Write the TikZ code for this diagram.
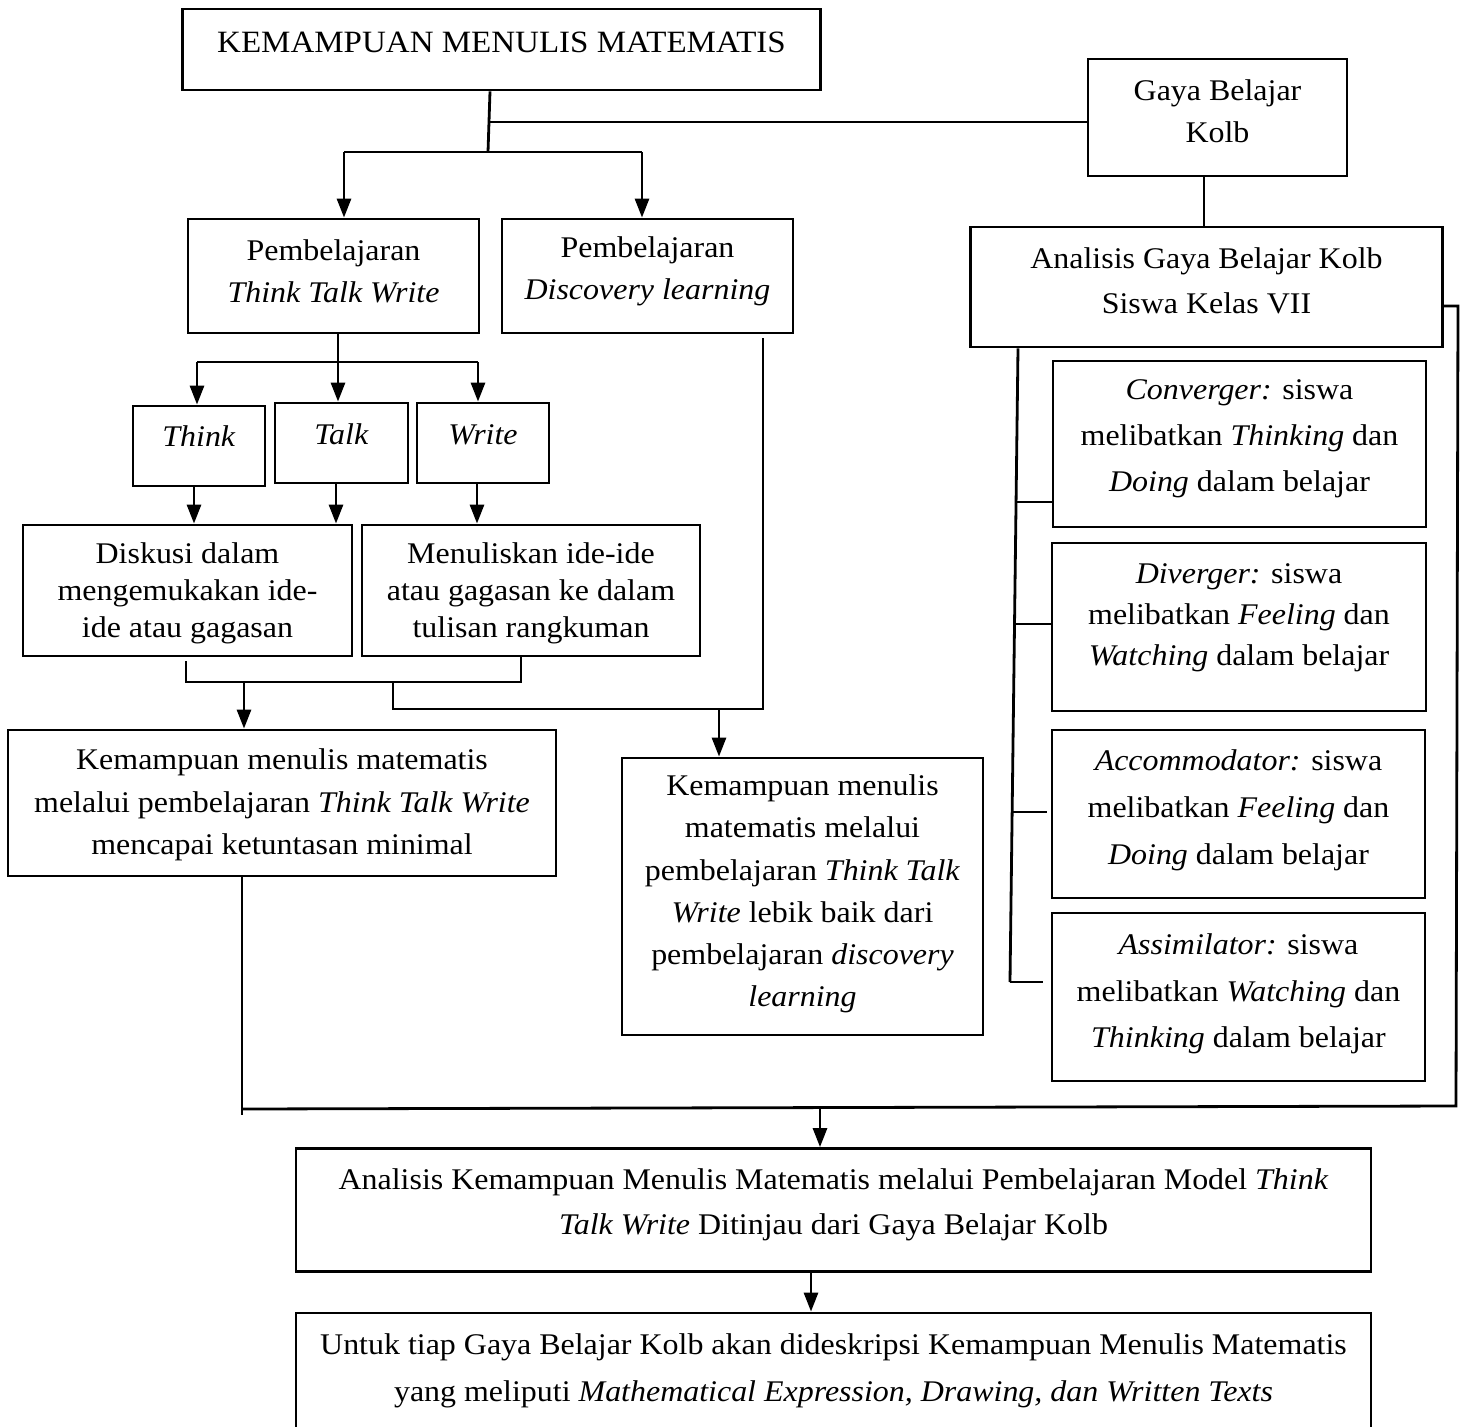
\documentclass[tikz,border=0pt]{standalone}
\usepackage{fontspec}
\setmainfont{Liberation Serif}[FakeStretch=1.065]
\usetikzlibrary{arrows.meta,calc}
\begin{document}
\begin{tikzpicture}[x=1pt,y=-1pt,
  box/.style={draw, line width=2.8pt, rectangle, inner sep=0pt},
  txt/.style={align=center, inner sep=0pt, font=\fontsize{30}{42}\selectfont},
  ln/.style={line width=2.8pt},
  arr/.style={line width=2.8pt, -{Triangle[length=19pt,width=14pt]}}]
\useasboundingbox (0,0) rectangle (1460,1427);
\fill[white] (0,0) rectangle (1460,1427);

% ---------- boxes ----------
\node[box, minimum width=638pt, minimum height=81pt] (top) at (501.5,49.5) {};
\node[txt, font=\fontsize{31}{42}\selectfont] (top-t) at (501.5,42) {KEMAMPUAN MENULIS MATEMATIS};

\node[box, minimum width=259pt, minimum height=117pt] (gaya) at (1217.5,117.5) {};
\node[txt] (gaya-t) at (1217.5,111) {Gaya Belajar\\Kolb};

\node[box, minimum width=291pt, minimum height=114pt] (ttw) at (333.5,276) {};
\node[txt] (ttw-t) at (333.5,271) {Pembelajaran\\\textit{Think Talk Write}};

\node[box, minimum width=291pt, minimum height=114pt] (disc) at (647.5,276) {};
\node[txt] (disc-t) at (647.5,271) {Pembelajaran\\\textit{Discovery learning}};

\node[box, minimum width=472pt, minimum height=120pt] (agk) at (1206.5,287) {};
\node[txt, font=\fontsize{30}{45}\selectfont] (agk-t) at (1206.5,281) {Analisis Gaya Belajar Kolb\\Siswa Kelas VII};

\node[box, minimum width=132pt, minimum height=80pt] (think) at (199,446) {};
\node[txt] (think-t) at (199,436) {\textit{Think}};
\node[box, minimum width=133pt, minimum height=80pt] (talk) at (341.5,443) {};
\node[txt] (talk-t) at (341.5,434) {\textit{Talk}};
\node[box, minimum width=132pt, minimum height=80pt] (write) at (483,443) {};
\node[txt] (write-t) at (483,435) {\textit{Write}};

\node[box, minimum width=329pt, minimum height=131pt] (diskusi) at (187.5,590.5) {};
\node[txt, font=\fontsize{30}{37}\selectfont] (diskusi-t) at (187.5,593) {Diskusi dalam\\mengemukakan ide-\\ide atau gagasan};
\node[box, minimum width=338pt, minimum height=131pt] (menulis) at (531,590.5) {};
\node[txt, font=\fontsize{30}{37}\selectfont] (menulis-t) at (531,593) {Menuliskan ide-ide\\atau gagasan ke dalam\\tulisan rangkuman};

\node[box, minimum width=548pt, minimum height=146pt] (kttw) at (282,803) {};
\node[txt, font=\fontsize{30}{42.5}\selectfont] (kttw-t) at (282,805) {Kemampuan menulis matematis\\melalui pembelajaran \textit{Think Talk Write}\\mencapai ketuntasan minimal};

\node[box, minimum width=361pt, minimum height=277pt] (kdisc) at (802.5,896.5) {};
\node[txt, font=\fontsize{30}{42.3}\selectfont] (kdisc-t) at (802.5,894) {Kemampuan menulis\\matematis melalui\\pembelajaran \textit{Think Talk}\\\textit{Write} lebik baik dari\\pembelajaran \textit{discovery}\\\textit{learning}};

\node[box, minimum width=373pt, minimum height=166pt] (conv) at (1239.5,444) {};
\node[txt, font=\fontsize{30}{46}\selectfont] (conv-t) at (1239.5,439) {\textit{Converger:} siswa\\melibatkan \textit{Thinking} dan\\\textit{Doing} dalam belajar};
\node[box, minimum width=374pt, minimum height=168pt] (div) at (1239,627) {};
\node[txt, font=\fontsize{30}{41}\selectfont] (div-t) at (1239,618) {\textit{Diverger:} siswa\\melibatkan \textit{Feeling} dan\\\textit{Watching} dalam belajar};
\node[box, minimum width=373pt, minimum height=168pt] (acc) at (1238.5,814) {};
\node[txt, font=\fontsize{30}{47}\selectfont] (acc-t) at (1238.5,810) {\textit{Accommodator:} siswa\\melibatkan \textit{Feeling} dan\\\textit{Doing} dalam belajar};
\node[box, minimum width=373pt, minimum height=168pt] (assim) at (1238.5,997) {};
\node[txt, font=\fontsize{30}{46.5}\selectfont] (assim-t) at (1238.5,994) {\textit{Assimilator:} siswa\\melibatkan \textit{Watching} dan\\\textit{Thinking} dalam belajar};

\node[box, minimum width=1075pt, minimum height=123pt] (akm) at (833.5,1210) {};
\node[txt, font=\fontsize{30}{45}\selectfont] (akm-t) at (833.5,1205) {Analisis Kemampuan Menulis Matematis melalui Pembelajaran Model \textit{Think}\\\textit{Talk Write} Ditinjau dari Gaya Belajar Kolb};

\node[box, minimum width=1075pt, minimum height=134pt] (untuk) at (833.5,1380) {};
\node[txt, font=\fontsize{30}{47}\selectfont] (untuk-t) at (833.5,1371) {Untuk tiap Gaya Belajar Kolb akan dideskripsi Kemampuan Menulis Matematis\\yang meliputi \textit{Mathematical Expression, Drawing, dan Written Texts}};

% ---------- connectors ----------
\coordinate (jA) at (490,122);
\coordinate (jB) at (488,152);
\draw[ln] (top.south -| jA) -- (jB);
\draw[ln] (jA) -- (jA -| gaya.west);
\coordinate (bl) at (344,152);
\coordinate (br) at (642,152);
\draw[ln] (bl) -- (br);
\draw[arr] (bl) -- (bl |- ttw.north);
\draw[arr] (br) -- (br |- disc.north);

\coordinate (gk) at (1204,0);
\draw[ln] (gaya.south -| gk) -- (agk.north -| gk);

\coordinate (t3) at (338,362);
\coordinate (t3l) at (197,362);
\coordinate (t3r) at (478,362);
\draw[ln] (ttw.south -| t3) -- (t3);
\draw[ln] (t3l) -- (t3r);
\draw[arr] (t3l) -- (t3l |- think.north);
\draw[arr] (t3) -- (t3 |- talk.north);
\draw[arr] (t3r) -- (t3r |- write.north);

\coordinate (x1) at (194,0);
\coordinate (x2) at (336,0);
\coordinate (x3) at (477,0);
\draw[arr] (think.south -| x1) -- (diskusi.north -| x1);
\draw[arr] (talk.south -| x2) -- (diskusi.north -| x2);
\draw[arr] (write.south -| x3) -- (menulis.north -| x3);

\coordinate (m1) at (186,682);
\coordinate (m2) at (521,682);
\draw[ln] ($(diskusi.south -| m1)+(0,4)$) -- (m1) -- (m2) -- (menulis.south -| m2);
\coordinate (m3) at (244,682);
\draw[arr] (m3) -- (m3 |- kttw.north);
\coordinate (m4) at (393,682);
\coordinate (m5) at (393,709);
\coordinate (m6) at (763,709);
\draw[ln] (m4) -- (m5) -- (m6) -- ($(m6 |- disc.south)+(0,4)$);
\coordinate (m7) at (719,709);
\draw[arr] (m7) -- (m7 |- kdisc.north);

\coordinate (b1) at (242,1109);
\coordinate (b2) at (1456,1106);
\coordinate (r1) at (1458,306);
\draw[ln] (kttw.south -| b1) -- ($(b1)+(0,6)$);
\draw[ln] (b1) -- (b2) -- (r1) -- (r1 -| agk.east);
\coordinate (b3) at (820,1108);
\draw[arr] (b3) -- (b3 |- akm.north);
\coordinate (u1) at (811,0);
\draw[arr] (akm.south -| u1) -- (untuk.north -| u1);

\coordinate (s0) at (1018,0);
\coordinate (s1) at (1010,982);
\draw[ln] (agk.south -| s0) -- (s1);
\coordinate (k1) at (1016,502);
\coordinate (k2) at (1014.5,624);
\coordinate (k3) at (1012,812);
\draw[ln] (k1) -- (k1 -| conv.west);
\draw[ln] (k2) -- (k2 -| div.west);
\draw[ln] (k3) -- ($(k3 -| acc.west)+(-4,0)$);
\draw[ln] (s1) -- ($(s1 -| assim.west)+(-8,0)$);
\end{tikzpicture}
\end{document}
